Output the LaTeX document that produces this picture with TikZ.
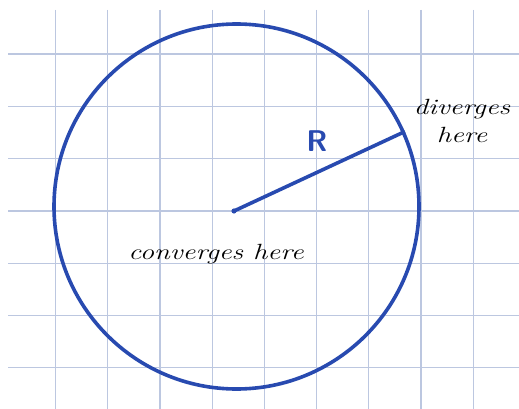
\documentclass[tikz,border=0pt]{standalone}
\usepackage{fontspec}
\definecolor{penblue}{RGB}{40,74,176}
\definecolor{gridblue}{RGB}{188,199,224}
\begin{document}
\begin{tikzpicture}[x=1pt,y=-1pt,
  gridline/.style={draw=gridblue,line width=1.2pt},
  pen/.style={draw=penblue,line width=3.6pt},
  hand/.style={font=\fontsize{22}{24}\selectfont\itshape,text=black,inner sep=0pt,align=center}]
\useasboundingbox[fill=white] (0,0) rectangle (519,409);
\foreach \x in {55.5,107.7,159.9,212.1,264.3,316.5,368.7,420.9,473.1}
  \draw[gridline] (\x,10) -- (\x,409);
\foreach \y in {54,106.3,158.6,210.9,263.2,315.5,367.8}
  \draw[gridline] (8,\y) -- (519,\y);
\node[pen,circle,minimum size=365pt,inner sep=0pt] (c) at (236.5,206.5) {};
\coordinate (o) at (234,211);
\fill[penblue] (o) circle (2.6pt);
\draw[pen] (o) -- (c.24);
\node[text=penblue,font=\sffamily\bfseries\fontsize{30}{30}\selectfont] (r) at (317,141) {R};
\node[hand] (div) at (462,121) {\scalebox{1.3}[1]{diverges}\\[4pt]\scalebox{1.3}[1]{here}};
\node[hand] (conv) at (216,254) {\scalebox{1.3}[1]{converges here}};
\end{tikzpicture}
\end{document}
